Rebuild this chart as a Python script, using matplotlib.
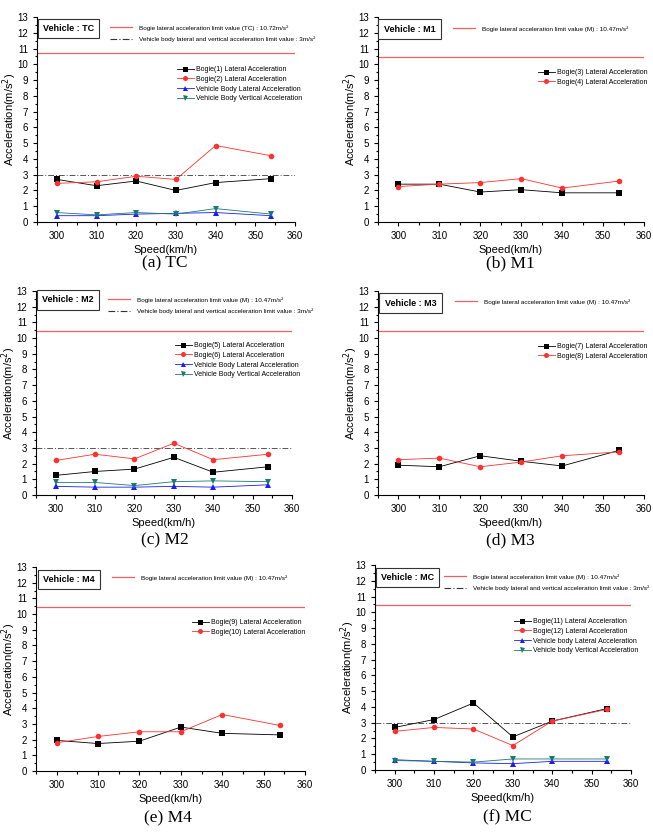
import matplotlib
matplotlib.use("Agg")
import matplotlib.pyplot as plt
from matplotlib.lines import Line2D
from matplotlib.ticker import MultipleLocator

plt.rcParams['font.family'] = ['Liberation Sans', 'DejaVu Sans']

speeds = [300, 310, 320, 330, 340, 354]

tc_bogie1 = [2.7, 2.3, 2.6, 2.0, 2.5, 2.75]
tc_bogie2 = [2.45, 2.55, 2.9, 2.7, 4.85, 4.2]
tc_body_lat = [0.4, 0.4, 0.5, 0.55, 0.6, 0.4]
tc_body_ver = [0.6, 0.45, 0.6, 0.5, 0.85, 0.5]

m1_bogie3 = [2.4, 2.4, 1.9, 2.05, 1.85, 1.85]
m1_bogie4 = [2.25, 2.4, 2.5, 2.75, 2.15, 2.6]

m2_bogie5 = [1.25, 1.5, 1.65, 2.4, 1.45, 1.8]
m2_bogie6 = [2.2, 2.6, 2.3, 3.3, 2.25, 2.6]
m2_body_lat = [0.55, 0.5, 0.5, 0.55, 0.5, 0.65]
m2_body_ver = [0.8, 0.8, 0.6, 0.85, 0.9, 0.85]

m3_bogie7 = [1.9, 1.8, 2.5, 2.15, 1.85, 2.85]
m3_bogie8 = [2.25, 2.35, 1.8, 2.1, 2.5, 2.75]

m4_bogie9 = [1.95, 1.75, 1.9, 2.8, 2.4, 2.3]
m4_bogie10 = [1.8, 2.2, 2.5, 2.5, 3.6, 2.9]

mc_bogie11 = [2.7, 3.2, 4.25, 2.1, 3.1, 3.9]
mc_bogie12 = [2.45, 2.7, 2.6, 1.55, 3.1, 3.85]
mc_body_lat = [0.65, 0.55, 0.45, 0.4, 0.55, 0.55]
mc_body_ver = [0.6, 0.55, 0.5, 0.7, 0.7, 0.7]

limit_tc = 10.72
limit_m = 10.47
limit_body = 3.0

W, H = 653, 835
fig = plt.figure(figsize=(W / 100, H / 100), dpi=100)

RED = '#ff3030'
LIMRED = '#f06060'
TEAL = '#1a7a70'
BLUE = '#1a1aff'


def fx(px):
    return px / W


def fy(py):
    return 1 - py / H


def make_panel(box, vehicle, caption, cap_xy, series, bogie_lim_label, bogie_lim,
               body_lim, box_px, lim_leg_px, data_leg_px):
    l, t, r, b = box
    ax = fig.add_axes([fx(l), fy(b), fx(r) - fx(l), (b - t) / H])
    ax.set_xlim(295, 360)
    ax.set_ylim(0, 13)
    ax.xaxis.set_major_locator(MultipleLocator(10))
    ax.xaxis.set_minor_locator(MultipleLocator(5))
    ax.yaxis.set_major_locator(MultipleLocator(1))
    ax.yaxis.set_minor_locator(MultipleLocator(0.5))
    ax.tick_params(which='both', direction='out', labelsize=7, width=0.8)
    ax.tick_params(which='major', length=3)
    ax.tick_params(which='minor', length=1.8)
    for s in ['top', 'right']:
        ax.spines[s].set_visible(False)
    for s in ['left', 'bottom']:
        ax.spines[s].set_linewidth(0.8)
    ax.set_xlabel('Speed(km/h)', fontsize=8, labelpad=3)
    ax.set_ylabel('Acceleration(m/s$^2$)', fontsize=8)
    ax.yaxis.set_label_coords(-18.0 / (r - l), 0.5)

    lim_handles = []
    lim_labels = []
    ax.axhline(bogie_lim, color=LIMRED, lw=0.9)
    lim_handles.append(Line2D([], [], color=LIMRED, lw=0.9))
    lim_labels.append(bogie_lim_label)
    if body_lim is not None:
        ax.axhline(body_lim[0], color='#555555', lw=0.7, ls=(0, (6, 2, 1, 2)))
        lim_handles.append(Line2D([], [], color='#333333', lw=0.8, ls=(0, (6, 2, 1, 2))))
        lim_labels.append(body_lim[1])

    handles = []
    labels = []
    for vals, color, marker, label in series:
        h, = ax.plot(speeds, vals, color=color, lw=0.6, marker=marker,
                     markersize=4, markeredgewidth=0, zorder=3)
        handles.append(h)
        labels.append(label)

    leg1 = ax.legend(lim_handles, lim_labels, loc='upper left',
                     bbox_to_anchor=(fx(lim_leg_px[0]), fy(lim_leg_px[1])),
                     bbox_transform=fig.transFigure, frameon=False,
                     fontsize=4.6, handlelength=3.4, handletextpad=1.1,
                     borderpad=0, borderaxespad=0, labelspacing=0.9)
    ax.add_artist(leg1)
    ax.legend(handles, labels, loc='upper left',
              bbox_to_anchor=(fx(data_leg_px[0]), fy(data_leg_px[1])),
              bbox_transform=fig.transFigure, frameon=False,
              fontsize=5.0, handlelength=2.4, handletextpad=0.3,
              borderpad=0, borderaxespad=0, labelspacing=0.4, markerscale=0.9)

    bx0, by0, bx1, by1 = box_px
    fig.text(fx((bx0 + bx1) / 2), fy((by0 + by1) / 2), vehicle,
             ha='center', va='center', fontsize=6.5, fontweight='bold',
             bbox=dict(boxstyle='square,pad=0.6', fc='white', ec='#333333', lw=0.8))

    fig.text(fx(cap_xy[0]), fy(cap_xy[1]), caption, ha='center', va='center',
             fontsize=12.5, family=['Liberation Serif', 'DejaVu Serif'])
    return ax


body_lim_label = 'Vehicle body lateral and vertical acceleration limit value : 3m/s²'

make_panel((37, 17, 295, 222), 'Vehicle : TC', '(a) TC', (165, 263),
           [(tc_bogie1, 'black', 's', 'Bogie(1) Lateral Acceleration'),
            (tc_bogie2, RED, 'o', 'Bogie(2) Lateral Acceleration'),
            (tc_body_lat, BLUE, '^', 'Vehicle Body Lateral Acceleration'),
            (tc_body_ver, TEAL, 'v', 'Vehicle Body Vertical Acceleration')],
           'Bogie lateral acceleration limit value (TC) : 10.72m/s²', limit_tc,
           (limit_body, body_lim_label), (42, 21, 95, 36), (110, 25), (177, 66))

make_panel((378, 17, 644, 222), 'Vehicle : M1', '(b) M1', (510, 263),
           [(m1_bogie3, 'black', 's', 'Bogie(3) Lateral Acceleration'),
            (m1_bogie4, RED, 'o', 'Bogie(4) Lateral Acceleration')],
           'Bogie lateral acceleration limit value (M) : 10.47m/s²', limit_m,
           None, (382, 22, 437, 36), (453, 26), (538, 69))

make_panel((36, 291, 292, 495), 'Vehicle : M2', '(c) M2', (165, 540),
           [(m2_bogie5, 'black', 's', 'Bogie(5) Lateral Acceleration'),
            (m2_bogie6, RED, 'o', 'Bogie(6) Lateral Acceleration'),
            (m2_body_lat, BLUE, '^', 'Vehicle Body Lateral Acceleration'),
            (m2_body_ver, TEAL, 'v', 'Vehicle Body Vertical Acceleration')],
           'Bogie lateral acceleration limit value (M) : 10.47m/s²', limit_m,
           (limit_body, body_lim_label), (41, 292, 95, 308), (108, 297), (175, 342))

make_panel((378, 291, 644, 495), 'Vehicle : M3', '(d) M3', (510, 540),
           [(m3_bogie7, 'black', 's', 'Bogie(7) Lateral Acceleration'),
            (m3_bogie8, RED, 'o', 'Bogie(8) Lateral Acceleration')],
           'Bogie lateral acceleration limit value (M) : 10.47m/s²', limit_m,
           None, (383, 296, 438, 310), (455, 299), (538, 343))

make_panel((36, 567, 305, 771), 'Vehicle : M4', '(e) M4', (168, 818),
           [(m4_bogie9, 'black', 's', 'Bogie(9) Lateral Acceleration'),
            (m4_bogie10, RED, 'o', 'Bogie(10) Lateral Acceleration')],
           'Bogie lateral acceleration limit value (M) : 10.47m/s²', limit_m,
           None, (41, 572, 97, 587), (112, 575), (192, 619))

make_panel((375, 565, 631, 770), 'Vehicle : MC', '(f) MC', (507, 817),
           [(mc_bogie11, 'black', 's', 'Bogie(11) Lateral Acceleration'),
            (mc_bogie12, RED, 'o', 'Bogie(12) Lateral Acceleration'),
            (mc_body_lat, BLUE, '^', 'Vehicle body Lateral Acceleration'),
            (mc_body_ver, TEAL, 'v', 'Vehicle body Vertical Acceleration')],
           'Bogie lateral acceleration limit value (M) : 10.47m/s²', limit_m,
           (limit_body, body_lim_label), (380, 570, 435, 585), (444, 574), (514, 618))

fig.savefig('out.png', dpi=100)
